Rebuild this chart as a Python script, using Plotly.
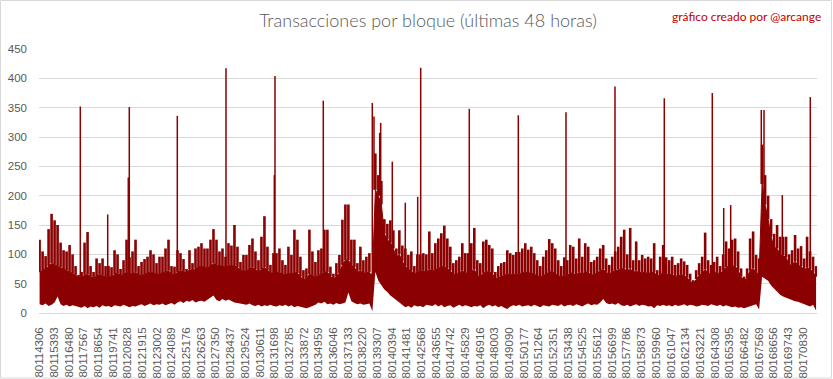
import plotly.graph_objects as go

# ---------------- data ----------------
# block numbers on the category axis, one label every 1087 blocks
FIRST_BLOCK = 80114306
LABEL_EVERY = 1087
N_LABELS = 53
tick_blocks = [FIRST_BLOCK + LABEL_EVERY * k for k in range(N_LABELS)]
tick_labels = [str(b) for b in tick_blocks]

# envelope of the dense per-block series, one reading per bin of 222 blocks
BIN_BLOCKS = 222

# highest value inside each bin (tips of the thin lines)
high_vals = [
    125,105,97,143,169,158,150,120,107,105,
    116,100,80,65,70,120,138,80,70,93,
    85,93,80,80,78,107,100,75,90,125,
    95,105,125,80,87,92,96,107,100,85,
    96,96,110,125,80,79,107,102,92,75,
    107,85,110,113,119,110,110,125,143,125,
    105,110,96,119,115,150,113,87,99,99,
    116,127,105,90,130,165,113,82,102,102,
    110,90,82,113,99,142,125,96,73,76,
    142,105,87,107,110,142,142,79,67,85,
    99,159,185,185,125,125,85,113,90,96,
    102,67,272,235,225,160,152,158,141,110,
    141,115,110,99,105,80,100,100,102,100,
    139,102,119,127,136,149,127,113,85,90,
    96,119,102,102,119,145,90,85,122,125,
    116,110,70,80,85,87,107,102,99,104,
    104,110,119,108,113,102,90,80,96,107,
    126,119,110,90,80,95,90,116,113,93,
    127,96,119,113,87,90,96,110,116,93,
    82,96,105,113,130,142,100,145,90,122,
    90,99,93,96,93,119,73,96,116,95,
    90,96,82,85,93,88,82,67,56,73,
    85,96,137,90,82,87,96,80,100,122,
    110,125,127,105,76,62,76,127,139,99,
    93,287,235,200,160,135,150,130,130,130,
    100,107,133,110,114,93,130,105,96,80,
]

# top of the solid (densely filled) part of each bin
solid_vals = [
    70,72,75,80,85,82,80,78,75,72,
    70,68,65,60,62,65,66,62,60,63,
    65,64,62,63,62,66,68,64,66,70,
    68,66,70,65,64,66,68,70,68,66,
    67,68,70,72,66,65,70,72,70,68,
    74,72,76,78,80,78,77,80,85,82,
    80,80,78,82,80,80,78,72,72,72,
    75,78,74,70,75,78,72,68,68,68,
    70,66,65,68,66,70,68,62,56,58,
    66,64,62,64,66,70,70,62,58,62,
    68,82,90,90,82,78,68,72,68,68,
    70,60,210,200,185,135,125,120,110,95,
    100,88,80,75,72,66,70,70,72,70,
    74,72,74,76,78,80,76,72,65,66,
    68,72,68,68,70,74,64,62,68,70,
    70,68,58,60,62,64,66,66,65,66,
    66,68,70,68,68,66,64,62,64,66,
    70,70,68,64,62,64,64,68,68,64,
    70,66,70,70,64,66,68,72,74,70,
    66,70,72,74,75,76,70,76,68,72,
    68,70,68,68,68,70,62,66,68,66,
    65,66,62,63,65,64,60,55,50,58,
    64,68,74,68,66,68,70,66,72,78,
    80,80,80,72,62,55,60,72,76,70,
    66,220,185,160,130,112,110,100,98,95,
    82,82,88,80,80,72,78,74,70,62,
]

# lowest value inside each bin
low_vals = [
    15,13,16,12,14,18,28,15,12,14,11,13,12,
    10,9,12,8,11,10,12,9,13,11,12,10,13,12,11,14,12,10,
    12,11,13,15,12,14,16,13,15,14,16,13,15,17,14,
    18,20,17,21,19,22,18,20,21,19,23,26,30,22,20,24,21,23,20,
    18,17,16,15,14,16,13,12,14,11,13,12,14,12,11,13,
    12,14,11,13,10,12,11,9,8,10,12,14,18,16,19,
    15,16,14,17,15,16,18,35,20,17,15,16,14,15,16,3,
    70,55,48,40,36,30,26,22,18,14,10,12,9,13,11,12,10,14,
    13,12,15,11,14,10,12,13,9,12,14,11,13,12,10,12,
    11,13,8,12,14,11,13,10,12,9,7,11,13,12,14,11,
    12,13,11,14,12,10,13,12,11,14,13,12,15,11,13,14,
    12,15,13,11,14,16,13,15,14,18,24,17,15,16,14,17,
    13,12,14,11,13,15,12,14,13,11,12,8,13,12,14,12,
    13,11,14,12,13,15,12,14,13,11,12,14,13,12,15,13,
    12,14,11,13,12,10,11,9,10,8,10,11,13,15,6,
    62,58,55,47,42,36,31,28,26,23,22,20,19,17,16,13,11,14,4,
]

# isolated tall blocks (single thin spikes)
spike_blocks = [80117320, 80119349, 80120874, 80120948, 80124503, 80128109,
                80131686, 80131737, 80135314, 80138942, 80139068, 80139490,
                80139564, 80140423, 80141386, 80142304, 80142527, 80146125,
                80149754, 80153286, 80156914, 80160565, 80164119, 80164964,
                80165482, 80167748, 80167948, 80169303, 80171376]
spike_values = [352, 168, 231, 351, 336, 417, 235, 404, 362, 358, 335, 307,
                324, 258, 188, 198, 418, 348, 337, 342, 386, 366, 375, 179,
                184, 346, 346, 201, 368]

TITLE = "Transacciones por bloque (últimas 48 horas)"
CREDIT = "gráfico creado por @arcange"

# ---------------- figure ----------------
RED = "#8B0000"
GRID = "#D9D9D9"
TXT = "#595959"

bin_x = [FIRST_BLOCK + BIN_BLOCKS * i for i in range(len(high_vals))]

fig = go.Figure()

# solid body: low envelope -> solid top
fig.add_trace(go.Scatter(x=bin_x, y=low_vals, mode="lines",
                         line=dict(width=0, color=RED),
                         hoverinfo="skip", showlegend=False))
fig.add_trace(go.Scatter(x=bin_x, y=solid_vals, mode="lines",
                         line=dict(width=1, color=RED),
                         fill="tonexty", fillcolor=RED,
                         hoverinfo="skip", showlegend=False))

# vertical lines from the solid part up to each bin maximum
vx, vy = [], []
for bx, s, h in zip(bin_x, solid_vals, high_vals):
    vx += [bx, bx, None]
    vy += [s, h, None]
fig.add_trace(go.Scatter(x=vx, y=vy, mode="lines",
                         line=dict(width=2.6, color=RED),
                         hoverinfo="skip", showlegend=False))

# isolated spikes
sx, sy = [], []
for b, v in zip(spike_blocks, spike_values):
    idx = min(len(solid_vals) - 1, max(0, round((b - FIRST_BLOCK) / BIN_BLOCKS)))
    sx += [b, b, None]
    sy += [solid_vals[idx], v, None]
fig.add_trace(go.Scatter(x=sx, y=sy, mode="lines",
                         line=dict(width=1.5, color=RED),
                         hoverinfo="skip", showlegend=False))

L, R, T, B = 39, 16, 49, 66
W, H = 833, 379
pw, ph = W - L - R, H - T - B
def px_x(p):
    return (p - L) / pw
def px_y(p):
    return (H - B - p) / ph

x_end = FIRST_BLOCK + 57567

fig.update_layout(
    width=W, height=H,
    margin=dict(l=L, r=R, t=T, b=B, pad=0),
    paper_bgcolor="white", plot_bgcolor="white",
    font=dict(family="Lato, 'Liberation Sans', sans-serif", color=TXT),
    title=dict(text=TITLE, x=px_x(428), xref="paper", xanchor="center",
               y=1 - 21 / H, yref="container", yanchor="middle",
               font=dict(family="Lato, sans-serif", size=18, color=TXT, weight=300)),
    showlegend=False,
    xaxis=dict(
        range=[FIRST_BLOCK - 44, x_end],
        tickmode="array", tickvals=tick_blocks, ticktext=tick_labels,
        tickangle=-90, showgrid=False, zeroline=False, showline=False,
        ticks="", ticklabelstandoff=11, automargin=False,
        tickfont=dict(family="'Liberation Sans', sans-serif", size=11.5, color=TXT),
    ),
    yaxis=dict(
        range=[0, 450], dtick=50, tick0=0,
        showgrid=True, gridcolor=GRID, gridwidth=1,
        zeroline=True, zerolinecolor=GRID, zerolinewidth=1,
        showline=False, ticks="", ticklabelstandoff=11, automargin=False,
        tickfont=dict(family="'Liberation Sans', sans-serif", size=11.5, color=TXT),
    ),
    annotations=[dict(
        text=CREDIT, xref="paper", yref="paper",
        x=px_x(823), y=px_y(16), xanchor="right", yanchor="middle",
        showarrow=False,
        font=dict(family="Lato, sans-serif", size=12, color="#C00000"),
    )],
    shapes=[dict(type="rect", xref="paper", yref="paper",
                 x0=px_x(0.5), x1=px_x(831.5), y0=px_y(378), y1=px_y(0.5),
                 line=dict(color=GRID, width=1), layer="below")],
)

fig.write_html("out.html",
               config={"displayModeBar": False},
               post_script="document.body.style.margin='0px';"
                           "document.body.style.overflow='hidden';")
